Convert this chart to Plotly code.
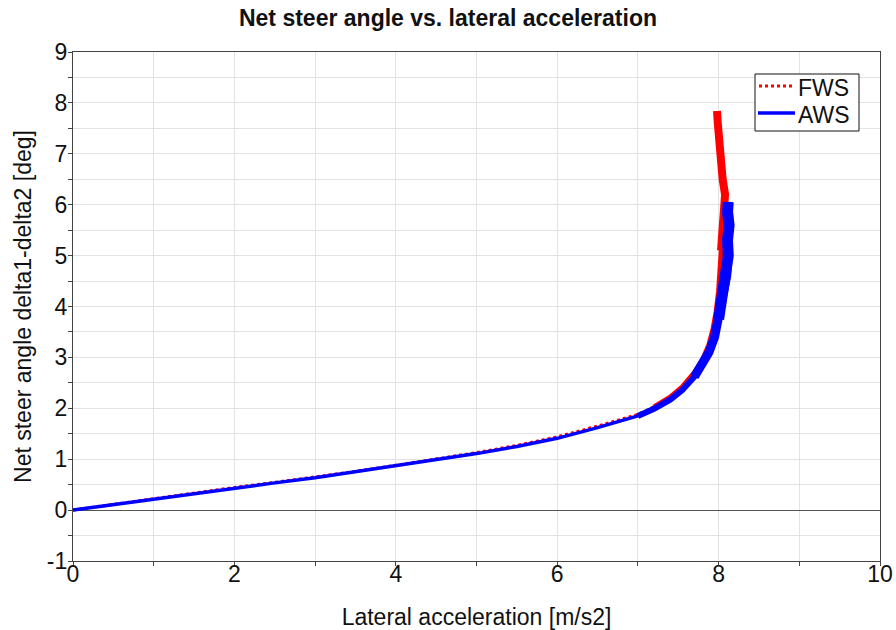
import plotly.graph_objects as go

# FWS series: lateral acceleration [m/s2], net steer angle [deg]
fws_ay = [0, 0.5, 1, 1.5, 2, 2.5, 3, 3.5, 4, 4.5, 5, 5.5, 6, 6.5, 6.8, 7.0, 7.2, 7.4, 7.55, 7.7,
          7.8, 7.88, 7.93, 7.97, 8.0, 8.02, 8.03, 8.05, 8.06, 8.08, 8.05, 8.04, 8.02, 8.01, 7.99, 7.98]
fws_delta = [0, 0.115, 0.225, 0.335, 0.445, 0.545, 0.65, 0.76, 0.88, 1.0, 1.13, 1.27, 1.44, 1.65, 1.78,
             1.88, 2.03, 2.22, 2.42, 2.7, 2.95, 3.25, 3.55, 3.9, 4.3, 4.7, 5.1, 5.5, 5.9, 6.2, 6.5,
             6.8, 7.1, 7.4, 7.6, 7.84]

# AWS series
aws_ay = [0, 0.5, 1, 1.5, 2, 2.5, 3, 3.5, 4, 4.5, 5, 5.5, 6, 6.5, 6.8, 7.0, 7.2, 7.4, 7.55, 7.7,
          7.8, 7.88, 7.95, 8.0, 8.05, 8.1, 8.12, 8.11, 8.13, 8.11, 8.12]
aws_delta = [0, 0.11, 0.22, 0.33, 0.435, 0.535, 0.635, 0.75, 0.865, 0.985, 1.11, 1.25, 1.41, 1.62,
             1.75, 1.85, 1.99, 2.17, 2.36, 2.62, 2.86, 3.1, 3.4, 3.75, 4.2, 4.6, 5.0, 5.3, 5.6, 5.85, 6.05]

series_names = ["FWS", "AWS"]
x_ticks = [0, 2, 4, 6, 8, 10]
y_ticks = [-1, 0, 1, 2, 3, 4, 5, 6, 7, 8, 9]

RED = "#ff0000"
BLUE = "#0000ff"
FONT = "Liberation Sans, Arial, sans-serif"
TXT = "#111111"

fig = go.Figure()

# FWS: base line + thicker upper segments (band thickens near saturation)
fig.add_trace(go.Scatter(x=fws_ay, y=fws_delta, mode="lines", name=series_names[0],
                         line=dict(color=RED, width=3, dash="dot")))
fig.add_trace(go.Scatter(x=fws_ay[16:], y=fws_delta[16:], mode="lines", showlegend=False,
                         hoverinfo="skip", line=dict(color=RED, width=5)))
fig.add_trace(go.Scatter(x=fws_ay[26:], y=fws_delta[26:], mode="lines", showlegend=False,
                         hoverinfo="skip", line=dict(color=RED, width=8)))

# AWS: base line + thicker upper segments
fig.add_trace(go.Scatter(x=aws_ay, y=aws_delta, mode="lines", name=series_names[1],
                         line=dict(color=BLUE, width=3.5)))
fig.add_trace(go.Scatter(x=aws_ay[15:], y=aws_delta[15:], mode="lines", showlegend=False,
                         hoverinfo="skip", line=dict(color=BLUE, width=6)))
fig.add_trace(go.Scatter(x=aws_ay[19:], y=aws_delta[19:], mode="lines", showlegend=False,
                         hoverinfo="skip", line=dict(color=BLUE, width=9)))
fig.add_trace(go.Scatter(x=aws_ay[23:], y=aws_delta[23:], mode="lines", showlegend=False,
                         hoverinfo="skip", line=dict(color=BLUE, width=11)))

axis_common = dict(
    showline=True, linecolor="#444444", linewidth=1.3, mirror=True,
    ticks="outside", ticklen=4, tickcolor="#444444",
    showgrid=True, gridcolor="#e3e3e3", gridwidth=1,
    tickfont=dict(family=FONT, size=23, color=TXT),
    title_font=dict(family=FONT, size=23, color=TXT),
    automargin=False,
)

# Custom legend box (compact, like the reference)
L, R, T, B = 73, 880, 52, 561
def px2paper_x(px):
    return (px - L) / (R - L)
def px2paper_y(py):
    return (B - py) / (B - T)

shapes = [
    dict(type="rect", xref="paper", yref="paper",
         x0=px2paper_x(755), x1=px2paper_x(859), y0=px2paper_y(131), y1=px2paper_y(74),
         fillcolor="white", line=dict(color=TXT, width=1), layer="above"),
    dict(type="line", xref="paper", yref="paper",
         x0=px2paper_x(759), x1=px2paper_x(795), y0=px2paper_y(86), y1=px2paper_y(86),
         line=dict(color=RED, width=3, dash="dot"), layer="above"),
    dict(type="line", xref="paper", yref="paper",
         x0=px2paper_x(758), x1=px2paper_x(795), y0=px2paper_y(113), y1=px2paper_y(113),
         line=dict(color=BLUE, width=3.5), layer="above"),
]
annotations = [
    dict(text=series_names[0], xref="paper", yref="paper", x=px2paper_x(796), y=px2paper_y(88),
         xanchor="left", yanchor="middle", showarrow=False,
         font=dict(family=FONT, size=23, color=TXT)),
    dict(text=series_names[1], xref="paper", yref="paper", x=px2paper_x(796), y=px2paper_y(115),
         xanchor="left", yanchor="middle", showarrow=False,
         font=dict(family=FONT, size=23, color=TXT)),
]

fig.update_layout(
    width=896, height=630,
    margin=dict(l=L, r=896 - R, t=T, b=630 - B),
    paper_bgcolor="white", plot_bgcolor="white",
    title=dict(text="<b>Net steer angle vs. lateral acceleration</b>", x=0.5, xanchor="center",
               y=1 - 18 / 630, yanchor="middle", font=dict(family=FONT, size=23, color=TXT),
               automargin=False),
    xaxis=dict(range=[0, 10], tickvals=x_ticks, ticktext=[str(v) for v in x_ticks],
               minor=dict(dtick=1, ticks="outside", ticklen=4, tickcolor="#444444",
                          showgrid=True, gridcolor="#e3e3e3"),
               zeroline=False, ticklabelstandoff=-12,
               title=dict(text="Lateral acceleration [m/s2]", standoff=26), **axis_common),
    yaxis=dict(range=[-1, 9], tickvals=y_ticks, ticktext=[str(v) for v in y_ticks],
               minor=dict(dtick=0.5, tick0=0, ticks="outside", ticklen=4, tickcolor="#444444",
                          showgrid=True, gridcolor="#e3e3e3"),
               zeroline=True, zerolinecolor="#555555", zerolinewidth=1, ticklabelstandoff=-4,
               title=dict(text="Net steer angle delta1-delta2 [deg]", standoff=8), **axis_common),
    showlegend=False,
    shapes=shapes,
    annotations=annotations,
)

fig.write_html("out.html", config={"displayModeBar": False},
               post_script="document.body.style.margin='0';")
